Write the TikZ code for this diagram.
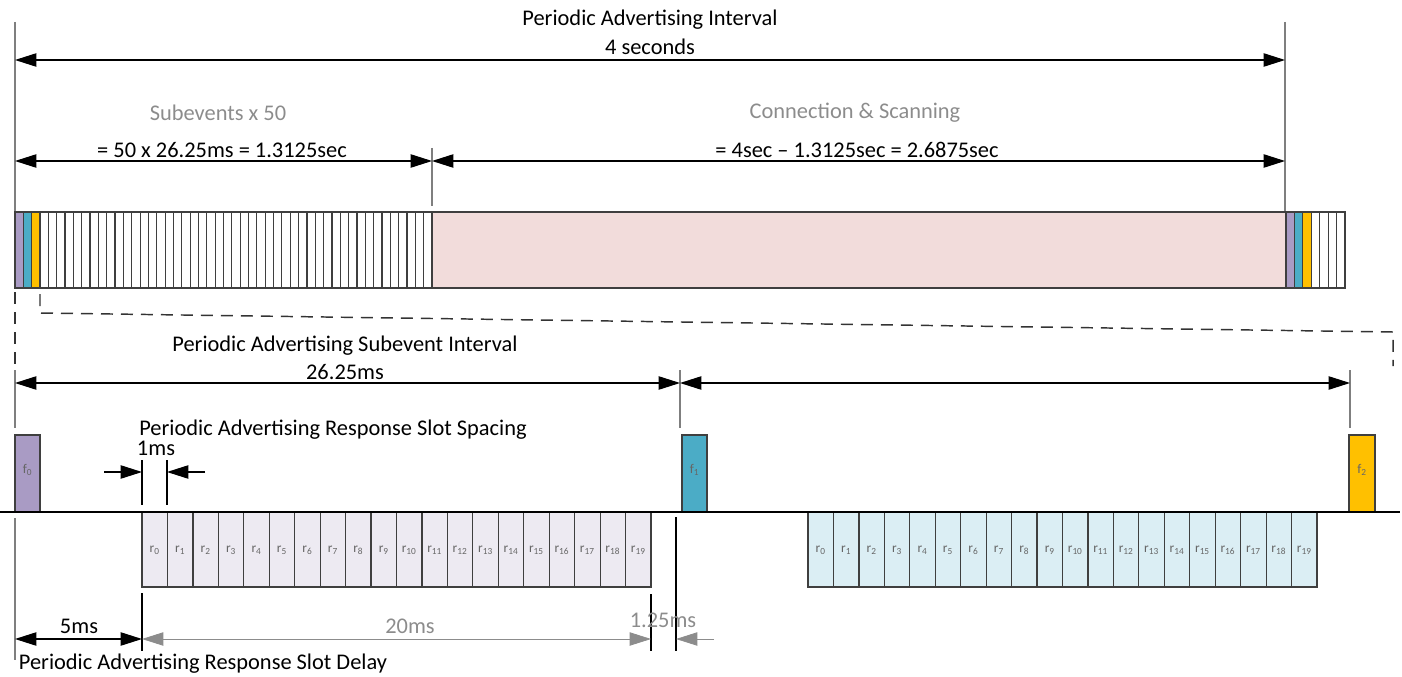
\documentclass[tikz,border=0pt]{standalone}
\usepackage{fontspec}
\setmainfont{Carlito}
\usetikzlibrary{arrows.meta}
\definecolor{fpurple}{HTML}{A99BC4}
\definecolor{fblue}{HTML}{4BACC6}
\definecolor{fyellow}{HTML}{FFC000}
\definecolor{conpink}{HTML}{F2DCDB}
\definecolor{slotlav}{HTML}{EDEAF2}
\definecolor{slotblue}{HTML}{DBEEF4}
\definecolor{txtgray}{HTML}{8C8C8C}
\definecolor{extgray}{HTML}{7F7F7F}
\definecolor{boxline}{HTML}{3F3F3F}
\tikzset{
  bigtip/.tip={Triangle[length=16pt,width=10pt]},
  dim/.style={bigtip-bigtip, line width=0.9pt},
  halfdim/.style={-bigtip, line width=0.9pt},
  greydim/.style={bigtip-bigtip, line width=0.6pt, draw=txtgray},
  ext/.style={draw=extgray, line width=1.1pt},
  zoomline/.style={draw=black!80, line width=1.1pt, dash pattern=on 9pt off 6pt},
  slotbox/.style={draw=boxline, line width=0.9pt},
  tinylabel/.style={font=\fontsize{10}{11}\selectfont, text=black!60},
  greylabel/.style={text=txtgray}
}
\begin{document}
\begin{tikzpicture}[x=0.75pt,y=-0.75pt,font=\fontsize{16.8}{19}\selectfont]
    \useasboundingbox (0,0) rectangle (1402,677);

    % periodic advertising interval
    \draw[ext] (15,22) -- (15,212);
    \draw[ext] (1285,22) -- (1285,212);
    \draw[ext] (432,148) -- (432,206);
    \node (interval) at (650,20) {Periodic Advertising Interval};
    \node (fourSec) at (650,47) {4 seconds};
    \draw[dim] (15,60) -- (1285,60);

    \node[greylabel] (subevents) at (218,113) {Subevents x 50};
    \node (subeventsSum) at (222,150) {= 50 x 26.25ms = 1.3125sec};
    \node[greylabel] (connScan) at (855,113) {Connection \& Scanning};
    \node (connScanSum) at (857,150) {= 4sec -- 1.3125sec = 2.6875sec};
    \draw[dim] (15,161) -- (432,161);
    \draw[dim] (432,161) -- (1285,161);

    % train of subevents
    \foreach \i in {0,...,49}
        \draw[slotbox, fill=white] ({15+\i*8.34},212) rectangle ++(8.34,76);
    \draw[slotbox, fill=fpurple] (15,212) rectangle ++(8.34,76);
    \draw[slotbox, fill=fblue] (23.34,212) rectangle ++(8.34,76);
    \draw[slotbox, fill=fyellow] (31.68,212) rectangle ++(8.34,76);
    \draw[slotbox, fill=conpink] (432,212) rectangle (1286,288);
    \foreach \i in {0,...,6}
        \draw[slotbox, fill=white] ({1286+\i*8.43},212) rectangle ++(8.43,76);
    \draw[slotbox, fill=fpurple] (1286,212) rectangle ++(8.43,76);
    \draw[slotbox, fill=fblue] (1294.43,212) rectangle ++(8.43,76);
    \draw[slotbox, fill=fyellow] (1302.86,212) rectangle ++(8.43,76);

    % zoom onto the first subevent
    \draw[zoomline] (15,292) -- (15,370);
    \draw[zoomline] (40,294) -- (40,313) -- (1393,332) -- (1393,366);

    % subevent interval
    \draw[ext] (15,370) -- (15,428);
    \draw[ext] (680,370) -- (680,428);
    \draw[ext] (1350,370) -- (1350,428);
    \node (subInterval) at (345,346) {Periodic Advertising Subevent Interval};
    \node (subMs) at (345,372) {26.25ms};
    \draw[dim] (15,383) -- (680,383);
    \draw[dim] (680,383) -- (1350,383);

    % slot spacing
    \node (spacing) at (333,430) {Periodic Advertising Response Slot Spacing};
    \node (oneMs) at (156,448) {1ms};
    \draw[ext, draw=black] (142,460) -- (142,505);
    \draw[ext, draw=black] (167,460) -- (167,505);
    \draw[halfdim] (104,472) -- (142,472);
    \draw[halfdim] (205,472) -- (167,472);

    % response slots
    \foreach \i in {0,...,19} {
        \draw[slotbox, fill=slotlav] ({142+\i*25.45},512) rectangle ++(25.45,75);
        \node[tinylabel] (ra\i) at ({142+(\i+0.5)*25.45},550) {r\textsubscript{\i}};
    }
    \foreach \i in {0,...,19} {
        \draw[slotbox, fill=slotblue] ({808+\i*25.45},512) rectangle ++(25.45,75);
        \node[tinylabel] (rb\i) at ({808+(\i+0.5)*25.45},550) {r\textsubscript{\i}};
    }

    % advertising packets
    \draw[slotbox, fill=fpurple] (15,435) rectangle (40,512);
    \node[tinylabel] (fa) at (27.5,470) {f\textsubscript{0}};
    \draw[slotbox, fill=fblue] (682,435) rectangle (707,512);
    \node[tinylabel] (fb) at (694.5,470) {f\textsubscript{1}};
    \draw[slotbox, fill=fyellow] (1349,435) rectangle (1375,512);
    \node[tinylabel] (fc) at (1362,470) {f\textsubscript{2}};
    \draw[line width=1.1pt] (0,512) -- (1400,512);

    % slot delay and remaining durations
    \draw[ext] (15,518) -- (15,660);
    \draw[ext, draw=black] (142,593) -- (142,651);
    \draw[ext, draw=black] (651,594) -- (651,651);
    \draw[ext, draw=black] (676,517) -- (676,651);
    \node (fiveMs) at (79,626) {5ms};
    \draw[dim] (15,639) -- (142,639);
    \node[greylabel] (twentyMs) at (410,626) {20ms};
    \draw[greydim] (142,639) -- (651,639);
    \node[greylabel] (gapMs) at (663,620) {1.25ms};
    \draw[-bigtip, line width=0.6pt, draw=txtgray] (714,639) -- (676,639);
    \node (delay) at (203,664) {Periodic Advertising Response Slot Delay};
\end{tikzpicture}
\end{document}
